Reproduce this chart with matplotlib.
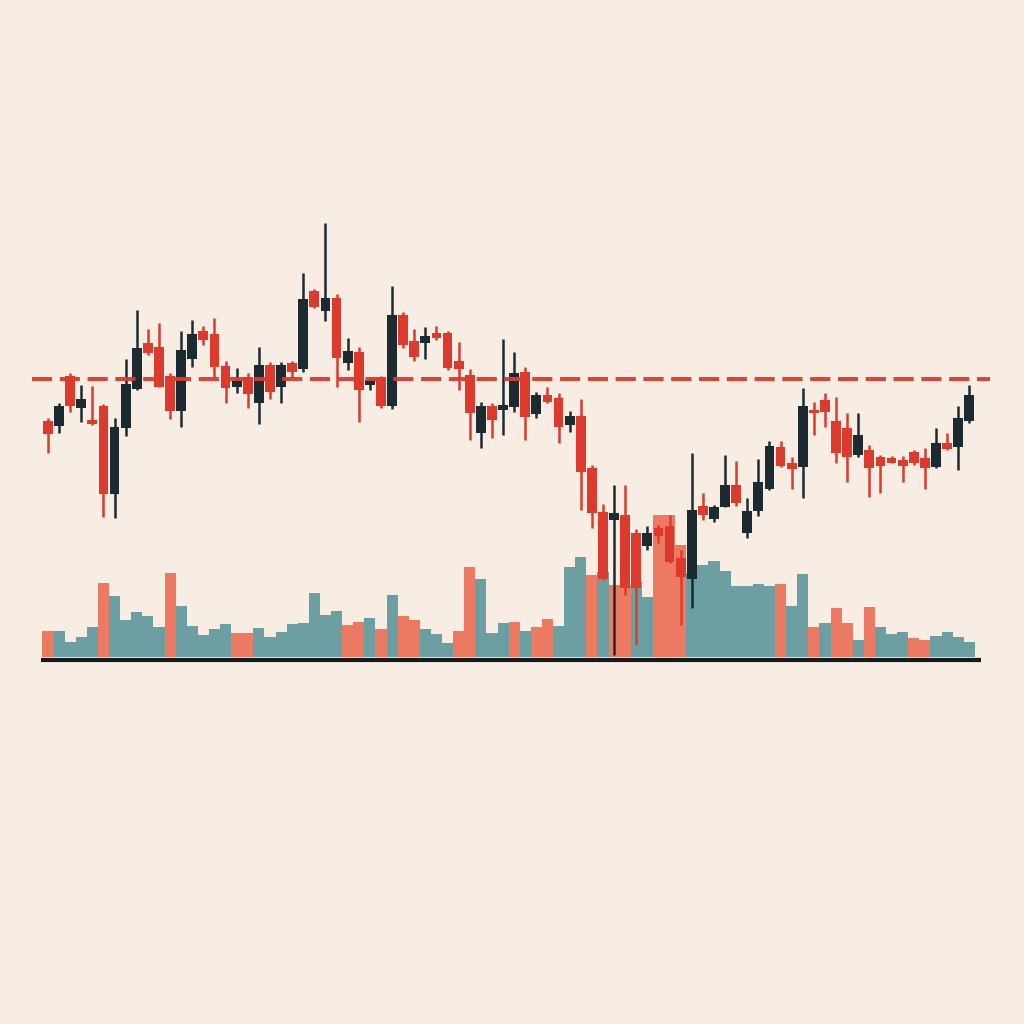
import numpy as np
import matplotlib
matplotlib.use("Agg")
import matplotlib.pyplot as plt

# candle data (open, close, high, low)
opens = [27.9, 27.4, 32.4, 29.2, 28.0, 29.4, 20.6, 27.2, 31.1, 35.7,
         35.3, 32.4, 28.9, 34.1, 36.9, 36.6, 33.4, 31.3, 32.3, 29.7,
         33.5, 31.3, 33.7, 33.1, 40.9, 38.9, 40.2, 33.7, 34.8, 31.5,
         32.3, 29.4, 38.5, 35.9, 35.7, 36.7, 36.7, 33.9, 32.5, 26.7,
         29.4, 29.0, 29.3, 32.8, 28.6, 30.5, 30.2, 27.5, 28.4, 23.2,
         18.8, 18.0, 18.5, 16.7, 15.4, 17.2, 17.4, 14.2, 12.1, 19.4,
         18.1, 19.3, 21.5, 16.7, 18.9, 21.1, 25.3, 23.7, 23.3, 29.0,
         30.0, 27.9, 27.2, 24.5, 25.0, 24.3, 24.2, 24.0, 24.8, 24.2,
         23.3, 25.7, 25.3, 27.9]
closes = [26.6, 29.4, 29.4, 30.1, 27.6, 20.6, 27.3, 31.6, 35.2, 34.7,
          31.3, 28.9, 35.0, 36.6, 36.0, 33.3, 31.2, 31.9, 30.6, 33.5,
          30.8, 33.5, 32.8, 40.1, 39.3, 40.2, 34.2, 34.9, 31.0, 32.0,
          29.4, 38.5, 35.5, 34.3, 36.4, 36.2, 33.2, 33.1, 28.7, 29.4,
          28.0, 29.5, 32.7, 28.3, 30.5, 29.8, 27.3, 28.4, 22.8, 18.7,
          12.1, 18.7, 11.2, 11.2, 16.7, 16.4, 13.8, 12.3, 19.0, 18.5,
          19.3, 21.5, 19.7, 18.9, 21.8, 25.4, 23.4, 23.1, 29.4, 28.7,
          28.8, 24.7, 24.3, 26.5, 23.2, 23.4, 23.7, 23.4, 23.7, 23.2,
          25.7, 25.1, 28.2, 30.5]
highs = [28.2, 29.7, 32.7, 31.5, 31.4, 29.6, 28.2, 34.1, 39.0, 37.1,
         37.7, 32.7, 36.9, 38.0, 37.4, 38.2, 33.9, 33.2, 32.7, 35.3,
         33.8, 33.8, 33.9, 42.7, 41.1, 47.7, 40.6, 36.2, 35.3, 32.2,
         32.4, 41.4, 38.8, 37.1, 37.3, 37.4, 36.9, 35.8, 33.1, 29.8,
         29.7, 36.1, 34.8, 33.3, 30.8, 31.3, 30.7, 28.9, 30.1, 23.5,
         19.6, 21.5, 21.5, 17.1, 17.4, 17.5, 18.5, 15.0, 24.7, 20.7,
         19.5, 24.5, 23.9, 20.2, 24.1, 25.9, 25.9, 24.3, 31.2, 29.8,
         30.7, 30.3, 28.7, 28.7, 25.5, 24.5, 24.4, 24.4, 25.0, 25.2,
         27.2, 26.7, 29.4, 31.5]
lows = [24.7, 26.7, 28.8, 27.8, 27.5, 18.3, 18.2, 26.4, 31.0, 34.5,
        31.3, 28.1, 27.3, 33.3, 35.5, 32.3, 29.7, 30.7, 29.2, 27.6,
        30.1, 29.7, 32.3, 32.8, 39.2, 37.9, 31.3, 33.0, 27.8, 31.0,
        29.2, 29.1, 35.2, 33.9, 34.1, 36.0, 33.0, 31.0, 26.0, 25.2,
        26.2, 26.5, 28.8, 26.0, 28.2, 29.7, 25.7, 26.8, 19.0, 17.2,
        12.0, 4.5, 10.5, 5.5, 15.0, 15.7, 13.7, 7.5, 9.2, 18.0,
        17.8, 19.3, 19.4, 16.2, 18.4, 21.0, 23.3, 21.1, 20.2, 26.5,
        27.3, 23.7, 21.8, 24.3, 20.3, 20.7, 23.7, 21.8, 23.5, 21.1,
        23.2, 25.0, 23.0, 27.7]

# volume bars and their colour side (r = salmon, t = teal)
volume = [26, 26, 15, 20, 30, 74, 61, 37, 45, 41,
          30, 84, 51, 31, 22, 28, 33, 24, 24, 29,
          20, 25, 33, 34, 64, 42, 46, 32, 35, 39,
          28, 62, 41, 37, 28, 23, 14, 26, 90, 78,
          24, 34, 35, 26, 30, 38, 31, 90, 100, 82,
          85, 72, 72, 75, 60, 142, 142, 112, 84, 92,
          96, 86, 71, 71, 73, 71, 73, 51, 83, 30,
          34, 49, 34, 17, 50, 30, 23, 25, 19, 17,
          21, 25, 20, 15]
vol_side = list("rtttt" "rtttt" "trttt" "ttrrt" "ttttt"
                "ttrrt" "rtrrt" "ttrrt" "ttrtr" "rtttr"
                "trrtt" "rrrtt" "ttttt" "trttr" "trrtr"
                "tttrr" "tttt")

level = 32.1  # dashed resistance line

BG = "#f8ede2"
RED = "#dd3a2e"
DARK = "#1b2b31"
TEAL = "#6b9fa2"
SALMON = "#ec7a63"

n = len(opens)
x = np.arange(n)
o = np.array(opens)
c = np.array(closes)
up = c >= o
candle_colors = [DARK if u else RED for u in up]
bar_colors = [SALMON if s == "r" else TEAL for s in vol_side]

fig = plt.figure(figsize=(10.24, 10.24), dpi=100, facecolor=BG)
ax = fig.add_axes([0, 0, 1, 1])
ax.set_facecolor(BG)

# volume on the base axis
ax.bar(x, volume, width=1.0, color=bar_colors, linewidth=0)
ax.hlines(-3, -0.63, 84.1, color="#151a1c", linewidth=3.0)
ax.set_ylim(-367, 657)
ax.set_xlim(-4.32, 87.93)
ax.axis("off")

# price candles on a twin axis drawn above the volume
ax2 = ax.twinx()
ax2.vlines(x, lows, highs, color=candle_colors, linewidth=1.8, zorder=2)
body_bottom = np.minimum(o, c)
body_height = np.maximum(np.abs(c - o), 0.3)
ax2.bar(x, body_height, bottom=body_bottom, width=0.88,
        color=candle_colors, linewidth=0, zorder=3)
ax2.hlines(level, -1.44, 84.9, color=RED, linewidth=2.9,
           linestyles=(0, (5.0, 1.9)), zorder=4, alpha=0.95)
ax2.set_ylim(-32.4, 70)
ax2.set_xlim(-4.32, 87.93)
ax2.axis("off")

fig.savefig("out.png", dpi=100, facecolor=BG)
